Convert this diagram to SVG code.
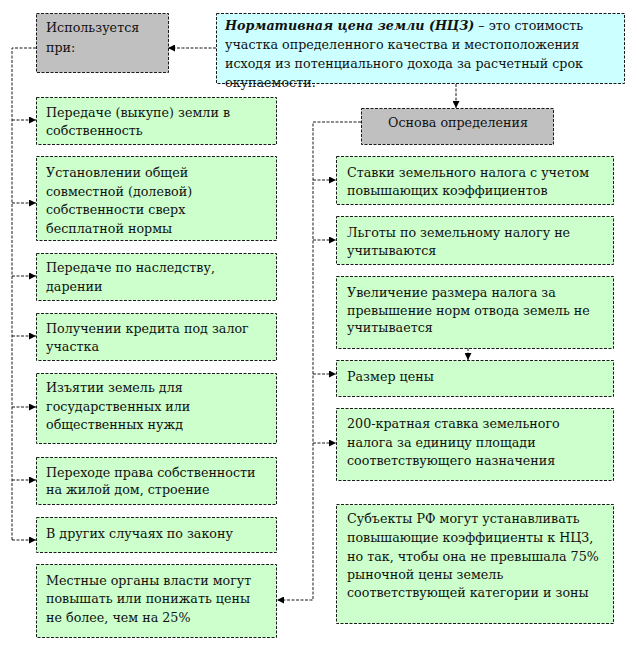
<svg xmlns="http://www.w3.org/2000/svg" width="637" height="649" viewBox="0 0 637 649">
<defs>
<style>
.box{stroke:#1a1a1a;stroke-width:1;stroke-dasharray:3 1.5}
.g{fill:#ccffcc}.gr{fill:#c0c0c0}.c{fill:#ccffff}
.t text{font-family:'DejaVu Serif','Liberation Serif',serif;font-size:12.7px;fill:#111}
.ln{fill:none;stroke:#1a1a1a;stroke-width:1;stroke-dasharray:3 1.5}
</style>
<marker id="ah" viewBox="0 0 8 8" refX="8" refY="4" markerWidth="7" markerHeight="7" markerUnits="userSpaceOnUse" orient="auto">
<path d="M0,0L8,4L0,8z" fill="#000"/>
</marker>
</defs>
<rect width="637" height="649" fill="#fff"/>
<g id="connectors">
<path class="ln" d="M216,48H168" marker-end="url(#ah)"/>
<path class="ln" d="M36,48H12V540"/>
<path class="ln" d="M12,120H36" marker-end="url(#ah)"/>
<path class="ln" d="M12,203H36" marker-end="url(#ah)"/>
<path class="ln" d="M12,276H36" marker-end="url(#ah)"/>
<path class="ln" d="M12,336H36" marker-end="url(#ah)"/>
<path class="ln" d="M12,407H36" marker-end="url(#ah)"/>
<path class="ln" d="M12,480H36" marker-end="url(#ah)"/>
<path class="ln" d="M12,540H36" marker-end="url(#ah)"/>
<path class="ln" d="M456,84V108" marker-end="url(#ah)"/>
<path class="ln" d="M361,122H313V600H277" marker-end="url(#ah)"/>
<path class="ln" d="M313,180H336" marker-end="url(#ah)"/>
<path class="ln" d="M313,240H336" marker-end="url(#ah)"/>
<path class="ln" d="M313,374H336" marker-end="url(#ah)"/>
<path class="ln" d="M313,443H336" marker-end="url(#ah)"/>
<path class="ln" d="M468,348V360" marker-end="url(#ah)"/>
</g>
<g class="t">
<g id="def">
<rect class="box c" x="216.5" y="13.5" width="408" height="70"/>
<text x="225" y="30"><tspan font-weight="bold" font-style="italic">Нормативная цена земли (НЦЗ)</tspan> – это стоимость</text>
<text x="225" y="49">участка определенного качества и местоположения</text>
<text x="225" y="68">исходя из потенциального дохода за расчетный срок</text>
<text x="225" y="87">окупаемости.</text>
</g>
<g id="used">
<rect class="box gr" x="36.5" y="13.5" width="132" height="59"/>
<text x="46" y="32">Используется</text>
<text x="46" y="52">при:</text>
</g>
<g id="basis">
<rect class="box gr" x="361.5" y="108.5" width="192" height="36"/>
<text x="458" y="127" text-anchor="middle">Основа определения</text>
</g>
<g id="l1">
<rect class="box g" x="36.5" y="97.5" width="240" height="47"/>
<text x="46" y="117">Передаче (выкупе) земли в</text>
<text x="46" y="135">собственность</text>
</g>
<g id="l2">
<rect class="box g" x="36.5" y="156.5" width="240" height="84"/>
<text x="46" y="177">Установлении общей</text>
<text x="46" y="195.5">совместной (долевой)</text>
<text x="46" y="214">собственности сверх</text>
<text x="46" y="232.5">бесплатной нормы</text>
</g>
<g id="l3">
<rect class="box g" x="36.5" y="253.5" width="240" height="47"/>
<text x="46" y="272">Передаче по наследству,</text>
<text x="46" y="291">дарении</text>
</g>
<g id="l4">
<rect class="box g" x="36.5" y="313.5" width="240" height="47"/>
<text x="46" y="333">Получении кредита под залог</text>
<text x="46" y="351">участка</text>
</g>
<g id="l5">
<rect class="box g" x="36.5" y="373.5" width="240" height="70"/>
<text x="46" y="392">Изъятии земель для</text>
<text x="46" y="411">государственных или</text>
<text x="46" y="429">общественных нужд</text>
</g>
<g id="l6">
<rect class="box g" x="36.5" y="457.5" width="240" height="47"/>
<text x="46" y="477">Переходе права собственности</text>
<text x="46" y="494">на жилой дом, строение</text>
</g>
<g id="l7">
<rect class="box g" x="36.5" y="517.5" width="240" height="35"/>
<text x="46" y="538">В других случаях по закону</text>
</g>
<g id="l8">
<rect class="box g" x="36.5" y="564.5" width="240" height="73"/>
<text x="46" y="585">Местные органы власти могут</text>
<text x="46" y="603">повышать или понижать цены</text>
<text x="46" y="622">не более, чем на 25%</text>
</g>
<g id="r1">
<rect class="box g" x="336.5" y="156.5" width="277" height="48"/>
<text x="347" y="177">Ставки земельного налога с учетом</text>
<text x="347" y="195">повышающих коэффициентов</text>
</g>
<g id="r2">
<rect class="box g" x="336.5" y="216.5" width="277" height="48"/>
<text x="347" y="237">Льготы по земельному налогу не</text>
<text x="347" y="255">учитываются</text>
</g>
<g id="r3">
<rect class="box g" x="336.5" y="276.5" width="277" height="72"/>
<text x="347" y="297">Увеличение размера налога за</text>
<text x="347" y="315">превышение норм отвода земель не</text>
<text x="347" y="332">учитывается</text>
</g>
<g id="r4">
<rect class="box g" x="336.5" y="360.5" width="277" height="36"/>
<text x="347" y="381">Размер цены</text>
</g>
<g id="r5">
<rect class="box g" x="336.5" y="408.5" width="277" height="72"/>
<text x="347" y="428">200-кратная ставка земельного</text>
<text x="347" y="447">налога за единицу площади</text>
<text x="347" y="465">соответствующего назначения</text>
</g>
<g id="r6">
<rect class="box g" x="336.5" y="504.5" width="277" height="119"/>
<text x="347" y="523">Субъекты РФ могут устанавливать</text>
<text x="347" y="542">повышающие коэффициенты к НЦЗ,</text>
<text x="347" y="561">но так, чтобы она не превышала 75%</text>
<text x="347" y="579">рыночной цены земель</text>
<text x="347" y="597">соответствующей категории и зоны</text>
</g>
</g>
</svg>
